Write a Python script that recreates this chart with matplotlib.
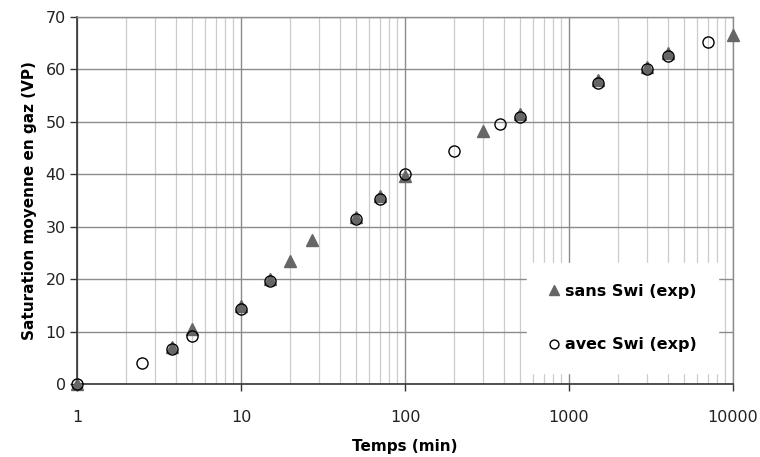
import matplotlib.pyplot as plt
from matplotlib.ticker import LogLocator, FixedLocator, NullFormatter
import numpy as np

plt.rcParams['font.family'] = ['DejaVu Sans']

# sans Swi (exp) - triangles
t_sans = [1, 3.8, 5, 10, 15, 20, 27, 50, 70, 100, 300, 500, 1500, 3000, 4000, 10000]
s_sans = [0, 7.1, 10.5, 14.8, 20.1, 23.5, 27.4, 31.9, 35.8, 39.7, 48.3, 51.5, 57.9, 60.5, 63.1, 66.6]

# avec Swi (exp) - open circles
t_avec = [1, 2.5, 3.8, 5, 10, 15, 50, 70, 100, 200, 380, 500, 1500, 3000, 4000, 7000]
s_avec = [0, 4.0, 6.6, 9.2, 14.4, 19.6, 31.4, 35.3, 40.0, 44.4, 49.6, 50.9, 57.5, 60.1, 62.6, 65.3]

y_ticks = [0, 10, 20, 30, 40, 50, 60, 70]
x_ticks = [1, 10, 100, 1000, 10000]
x_labels = ['1', '10', '100', '1000', '10000']

fig = plt.figure(figsize=(7.6, 4.57), dpi=100)
ax = fig.add_axes([77 / 760, 1 - 384 / 457, (733 - 77) / 760, (384 - 17) / 457])

ax.set_xscale('log')
ax.set_xlim(1, 10000)
ax.set_ylim(0, 70)

ax.xaxis.set_major_locator(FixedLocator(x_ticks))
ax.set_xticklabels(x_labels)
ax.xaxis.set_minor_locator(LogLocator(base=10, subs=np.arange(2, 10)))
ax.xaxis.set_minor_formatter(NullFormatter())
ax.set_yticks(y_ticks)

ax.grid(which='major', axis='both', color='#8c8c8c', linewidth=1.0)
ax.grid(which='minor', axis='x', color='#cccccc', linewidth=0.9)
ax.set_axisbelow(True)

ax.tick_params(axis='both', which='major', labelsize=11.5, color='#333333',
               labelcolor='#222222', length=5, width=1)
ax.tick_params(axis='x', which='minor', length=0)
ax.tick_params(axis='x', which='major', pad=14)
ax.tick_params(axis='y', which='major', pad=3)

for side in ('left', 'bottom'):
    ax.spines[side].set_color('#333333')
    ax.spines[side].set_linewidth(1.2)
for side in ('top', 'right'):
    ax.spines[side].set_color('#8c8c8c')
    ax.spines[side].set_linewidth(1.0)

ax.plot(t_sans, s_sans, linestyle='none', marker='^', markersize=9,
        color='#666666', markeredgecolor='#666666', label='sans Swi (exp)',
        zorder=3, clip_on=False)
ax.plot(t_avec, s_avec, linestyle='none', marker='o', markersize=8,
        markerfacecolor='none', markeredgecolor='black', markeredgewidth=1.0,
        label='avec Swi (exp)', zorder=4, clip_on=False)

ax.set_xlabel('Temps (min)', fontsize=11, fontweight='bold', labelpad=10)
ax.set_ylabel('Saturation moyenne en gaz (VP)', fontsize=11, fontweight='bold', labelpad=6)

leg = ax.legend(loc='lower right', bbox_to_anchor=(0.977, 0.03), borderaxespad=0,
                frameon=True, fancybox=False, edgecolor='white', facecolor='white',
                framealpha=1, prop={'size': 11.5, 'weight': 'bold'}, handlelength=0.8,
                handletextpad=0.3, labelspacing=2.4, borderpad=1.3, markerscale=0.8)

fig.savefig('out.png', dpi=100)
